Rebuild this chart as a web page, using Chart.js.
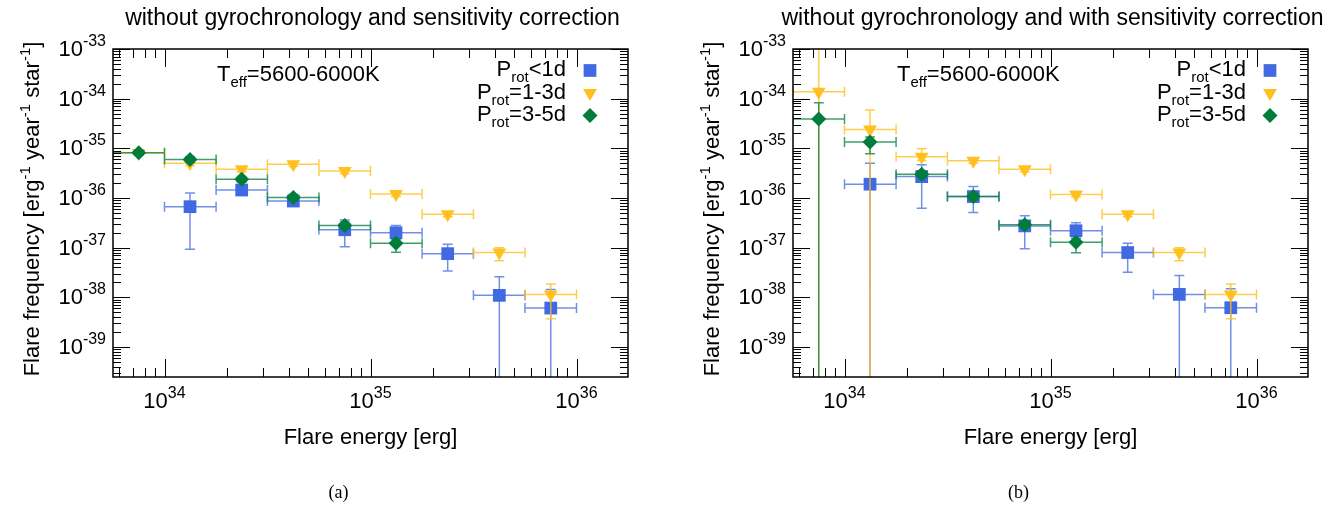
<!DOCTYPE html>
<html>
<head>
<meta charset="utf-8">
<script src="https://cdn.jsdelivr.net/npm/chart.js@4.4.0/dist/chart.umd.min.js"></script>
<style>
body { margin: 0; background: #fff; overflow: hidden; }
canvas { position: absolute; top: 0; }
</style>
</head>
<body>
<canvas id="panelA" width="680" height="512" style="left:0px"></canvas>
<canvas id="panelB" width="658" height="512" style="left:680px"></canvas>
<script>
// energy bins (erg): centres and edges
const energyBins = [7.5e33, 1.33e34, 2.37e34, 4.22e34, 7.5e34, 1.33e35, 2.37e35, 4.22e35, 7.5e35];
const binLow = [5.62e33, 1e34, 1.78e34, 3.16e34, 5.62e34, 1e35, 1.78e35, 3.16e35, 5.62e35];
const binHigh = [1e34, 1.78e34, 3.16e34, 5.62e34, 1e35, 1.78e35, 3.16e35, 5.62e35, 1e36];

const xTickPowers = ['34', '35', '36'];
const yTickPowers = ['-33', '-34', '-35', '-36', '-37', '-38', '-39'];

// (a) without sensitivity correction
const blueFreqA = [null, 6.7e-37, 1.45e-36, 8.7e-37, 2.3e-37, 2.0e-37, 7.6e-38, 1.1e-38, 6.1e-39];
const blueLowA = [null, 9.3e-38, 1.15e-36, 7.0e-37, 1.05e-37, 1.6e-37, 3.4e-38, 0, 0];
const blueHighA = [null, 1.26e-36, 1.8e-36, 1.05e-36, 3.6e-37, 2.8e-37, 1.17e-37, 2.6e-38, 1.45e-38];

const orangeFreqA = [8.1e-36, 5.0e-36, 3.8e-36, 4.8e-36, 3.5e-36, 1.2e-36, 4.7e-37, 8.0e-38, 1.15e-38];
const orangeLowA = [7.3e-36, 4.5e-36, 3.4e-36, 4.3e-36, 3.1e-36, 1.07e-36, 4.2e-37, 5.5e-38, 3.7e-39];
const orangeHighA = [9.0e-36, 5.5e-36, 4.2e-36, 5.3e-36, 3.9e-36, 1.33e-36, 5.2e-37, 1.0e-37, 1.86e-38];

const greenFreqA = [8.2e-36, 6.0e-36, 2.4e-36, 1.02e-36, 2.8e-37, 1.23e-37, null, null, null];
const greenLowA = [7.4e-36, 5.3e-36, 2.1e-36, 8.8e-37, 2.4e-37, 8.1e-38, null, null, null];
const greenHighA = [9.1e-36, 6.8e-36, 2.7e-36, 1.18e-36, 3.3e-37, 1.5e-37, null, null, null];

// (b) with sensitivity correction
const blueFreqB = [null, 1.9e-36, 2.7e-36, 1.07e-36, 2.75e-37, 2.2e-37, 8.0e-38, 1.15e-38, 6.2e-39];
const blueLowB = [null, 0, 6.2e-37, 5.1e-37, 9.5e-38, 1.7e-37, 3.2e-38, 0, 0];
const blueHighB = [null, 5.0e-36, 4.7e-36, 1.7e-36, 4.4e-37, 3.2e-37, 1.23e-37, 2.75e-38, 1.5e-38];

const orangeFreqB = [1.38e-34, 2.4e-35, 6.8e-36, 5.6e-36, 3.8e-36, 1.18e-36, 4.7e-37, 8.0e-38, 1.15e-38];
const orangeLowB = [0, 0, 5.7e-36, 5.0e-36, 3.4e-36, 1.06e-36, 4.2e-37, 5.5e-38, 3.7e-39];
const orangeHighB = [1e-31, 5.9e-35, 9.8e-36, 6.3e-36, 4.2e-36, 1.32e-36, 5.2e-37, 1.0e-37, 1.86e-38];

const greenFreqB = [3.9e-35, 1.35e-35, 3.0e-36, 1.07e-36, 2.9e-37, 1.29e-37, null, null, null];
const greenLowB = [0, 7.8e-36, 2.6e-36, 9.2e-37, 2.5e-37, 7.9e-38, null, null, null];
const greenHighB = [8.3e-35, 1.7e-35, 3.5e-36, 1.25e-36, 3.4e-37, 1.55e-37, null, null, null];

const FONT = '"Liberation Sans", Arial, Helvetica, sans-serif';
const BLUE = '#4169e1', ORANGE = '#ffc020', GREEN = '#007d3c';

function drawRich(ctx, parts, x, y, align) {
    let w = 0;
    parts.forEach(p => {
        ctx.font = p.size + 'px ' + FONT;
        p.w = ctx.measureText(p.t).width;
        w += p.w;
    });
    let cx = align === 'center' ? x - w / 2 : (align === 'right' ? x - w : x);
    ctx.textAlign = 'left';
    ctx.textBaseline = 'alphabetic';
    parts.forEach(p => {
        ctx.font = p.size + 'px ' + FONT;
        ctx.fillText(p.t, cx, y + (p.dy || 0));
        cx += p.w;
    });
}

function drawErrors(chart, ds) {
    const {ctx, chartArea: a, scales: {x, y}} = chart;
    ctx.save();
    ctx.beginPath();
    ctx.rect(a.left, a.top, a.right - a.left, a.bottom - a.top);
    ctx.clip();
    ctx.strokeStyle = ds.errColor;
    ctx.lineWidth = 1.5;
    ctx.beginPath();
    energyBins.forEach((e, i) => {
        const v = ds.freq[i];
        if (v === null) return;
        const px = x.getPixelForValue(e);
        const py = y.getPixelForValue(v);
        const x1 = x.getPixelForValue(binLow[i]);
        const x2 = x.getPixelForValue(binHigh[i]);
        ctx.moveTo(x1, py); ctx.lineTo(x2, py);
        ctx.moveTo(x1, py - 5); ctx.lineTo(x1, py + 5);
        ctx.moveTo(x2, py - 5); ctx.lineTo(x2, py + 5);
        const lo = ds.low[i], hi = ds.high[i];
        const y1 = lo > 0 ? y.getPixelForValue(lo) : a.bottom + 10;
        const y2 = hi < y.max ? y.getPixelForValue(hi) : a.top - 10;
        ctx.moveTo(px, y1); ctx.lineTo(px, y2);
        if (lo > 0) { ctx.moveTo(px - 5, y1); ctx.lineTo(px + 5, y1); }
        if (hi < y.max) { ctx.moveTo(px - 5, y2); ctx.lineTo(px + 5, y2); }
    });
    ctx.stroke();
    ctx.restore();
}

function drawFrame(chart, opts) {
    const {ctx, chartArea: a, scales: {x, y}} = chart;
    ctx.save();
    ctx.strokeStyle = '#000';
    ctx.lineWidth = 1;
    ctx.beginPath();
    for (let d = 33; d <= 36; d++) {
        for (let m = 1; m <= 9; m++) {
            const v = m * Math.pow(10, d);
            if (v < x.min || v > x.max) continue;
            const px = Math.round(x.getPixelForValue(v)) + 0.5;
            const len = m === 1 ? 18 : 9;
            ctx.moveTo(px, a.bottom); ctx.lineTo(px, a.bottom - len);
            ctx.moveTo(px, a.top); ctx.lineTo(px, a.top + len);
        }
    }
    for (let d = -41; d <= -33; d++) {
        for (let m = 1; m <= 9; m++) {
            const v = m * Math.pow(10, d);
            if (v < y.min * 0.999 || v > y.max * 1.001) continue;
            const py = Math.round(y.getPixelForValue(v)) + 0.5;
            const len = m === 1 ? 17 : 8;
            ctx.moveTo(a.left, py); ctx.lineTo(a.left + len, py);
            ctx.moveTo(a.right, py); ctx.lineTo(a.right - len, py);
        }
    }
    ctx.stroke();
    ctx.lineWidth = 1.5;
    ctx.strokeRect(a.left, a.top, a.right - a.left, a.bottom - a.top);

    ctx.fillStyle = '#000';
    xTickPowers.forEach(p => {
        const px = x.getPixelForValue(Math.pow(10, Number(p)));
        drawRich(ctx, [{t: '10', size: 22}, {t: p, size: 16, dy: -10}], px, a.bottom + 31, 'center');
    });
    yTickPowers.forEach(p => {
        const py = y.getPixelForValue(Math.pow(10, Number(p)));
        drawRich(ctx, [{t: '10', size: 22}, {t: p, size: 16, dy: -10}], a.left - 7, py + 7, 'right');
    });

    const cx = (a.left + a.right) / 2;
    drawRich(ctx, [{t: opts.title, size: 23}], cx + 2, 25, 'center');
    drawRich(ctx, [{t: 'Flare energy [erg]', size: 22}], cx, 444, 'center');

    ctx.save();
    ctx.translate(39, (a.top + a.bottom) / 2 - 4);
    ctx.rotate(-Math.PI / 2);
    drawRich(ctx, [
        {t: 'Flare frequency [erg', size: 22}, {t: '-1', size: 15, dy: -9},
        {t: ' year', size: 22}, {t: '-1', size: 15, dy: -9},
        {t: ' star', size: 22}, {t: '-1', size: 15, dy: -9},
        {t: ']', size: 22}
    ], 0, 0, 'center');
    ctx.restore();

    drawRich(ctx, [{t: 'T', size: 22}, {t: 'eff', size: 15, dy: 6}, {t: '=5600-6000K', size: 22}],
        a.left + 104, a.top + 32, 'left');

    // legend
    const tx = a.right - 62, mx = a.right - 38;
    chart.data.datasets.forEach((ds, i) => {
        const base = a.top + 27 + i * 22.5;
        ctx.fillStyle = '#000';
        drawRich(ctx, [{t: 'P', size: 22}, {t: 'rot', size: 15, dy: 6}, {t: ds.label.slice(4), size: 22}], tx, base, 'right');
        ctx.fillStyle = ds.backgroundColor;
        Chart.helpers.drawPoint(ctx, {pointStyle: ds.pointStyle, radius: ds.pointRadius,
            rotation: ds.rotation, borderWidth: 0}, mx, base - 5.5);
    });

    ctx.fillStyle = '#000';
    ctx.font = '18px "Liberation Serif", "DejaVu Serif", serif';
    ctx.textAlign = 'center';
    ctx.textBaseline = 'middle';
    ctx.fillText(opts.letter, cx - 32, 493);
    ctx.restore();
}

function makeDataset(label, freq, low, high, color, errColor, style, radius, rotation, order) {
    return {
        label: label,
        data: energyBins.map((e, i) => ({x: e, y: freq[i]})).filter(p => p.y !== null),
        freq: freq, low: low, high: high,
        errColor: errColor,
        backgroundColor: color,
        borderWidth: 0,
        pointStyle: style,
        pointRadius: radius,
        pointHoverRadius: radius,
        rotation: rotation,
        showLine: false,
        order: order
    };
}

function makePanel(id, width, title, letter, blue, orange, green) {
    const framePlugin = {
        id: 'frame',
        beforeDatasetDraw(chart, args) {
            drawErrors(chart, chart.data.datasets[args.index]);
        },
        afterDraw(chart) {
            drawFrame(chart, {title: title, letter: letter});
        }
    };
    new Chart(document.getElementById(id).getContext('2d'), {
        type: 'scatter',
        data: {
            datasets: [
                makeDataset('Prot<1d', blue[0], blue[1], blue[2], BLUE, 'rgba(65,105,225,0.75)', 'rect', 9, 0, 3),
                makeDataset('Prot=1-3d', orange[0], orange[1], orange[2], ORANGE, 'rgba(255,192,32,0.8)', 'triangle', 8, 180, 2),
                makeDataset('Prot=3-5d', green[0], green[1], green[2], GREEN, 'rgba(0,125,60,0.75)', 'rectRot', 7.5, 0, 1)
            ]
        },
        options: {
            responsive: false,
            animation: false,
            devicePixelRatio: 1,
            layout: {padding: {left: 113, right: width - 628, top: 49, bottom: 135}},
            plugins: {legend: {display: false}, tooltip: {enabled: false}},
            scales: {
                x: {type: 'logarithmic', min: Math.pow(10, 33.75), max: Math.pow(10, 36.25), display: false},
                y: {type: 'logarithmic', min: 2.5e-40, max: 1e-33, display: false}
            }
        },
        plugins: [framePlugin]
    });
}

makePanel('panelA', 680, 'without gyrochronology and sensitivity correction', '(a)',
    [blueFreqA, blueLowA, blueHighA], [orangeFreqA, orangeLowA, orangeHighA], [greenFreqA, greenLowA, greenHighA]);
makePanel('panelB', 658, 'without gyrochronology and with sensitivity correction', '(b)',
    [blueFreqB, blueLowB, blueHighB], [orangeFreqB, orangeLowB, orangeHighB], [greenFreqB, greenLowB, greenHighB]);
</script>
</body>
</html>
